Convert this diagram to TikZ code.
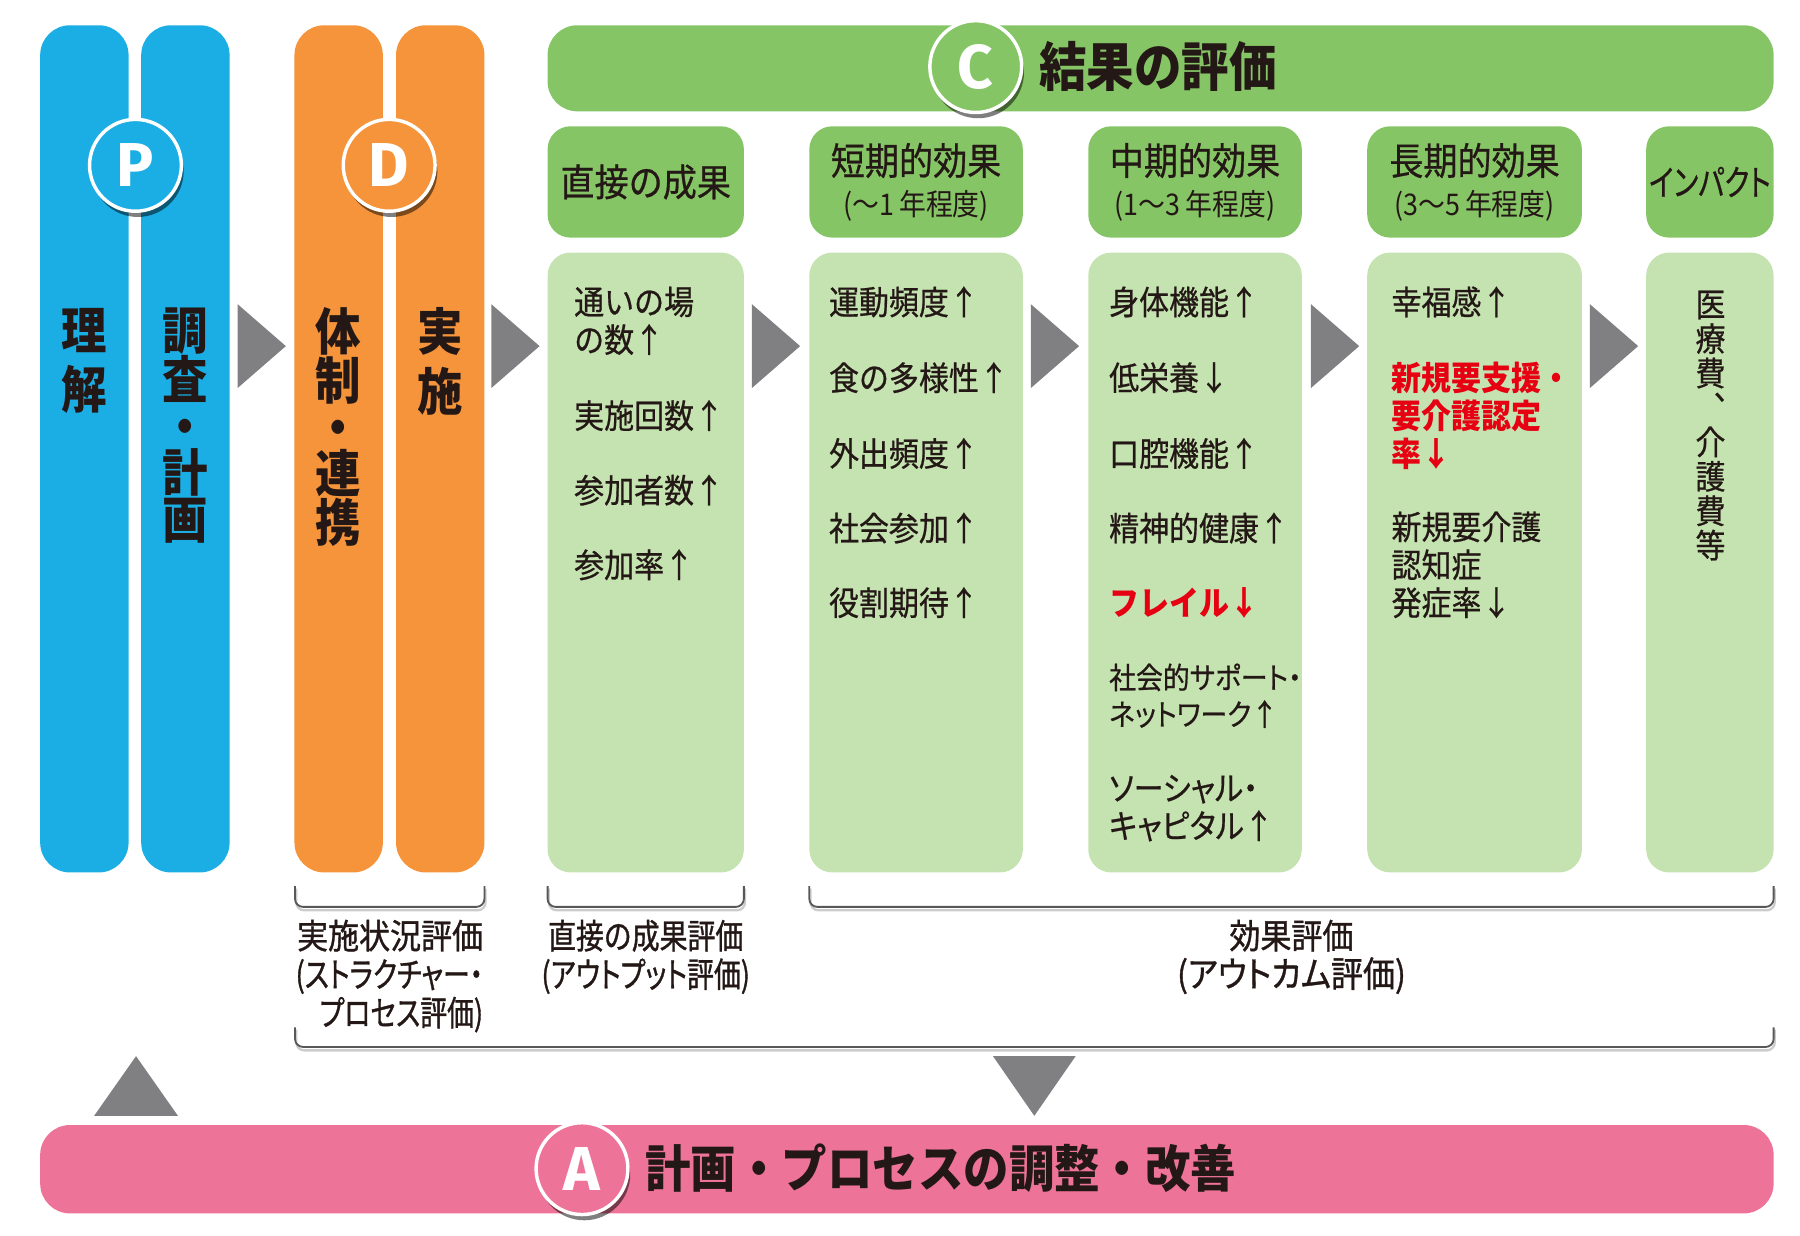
\documentclass[tikz,border=0pt]{standalone}
\usepackage{fontspec}
\setmainfont{Noto Sans CJK JP}
\newfontfamily\jp[FakeStretch=0.9]{Noto Sans CJK JP}
\newfontfamily\jm[FakeStretch=0.9,FakeBold=0.6]{Noto Sans CJK JP}
\newfontfamily\jmp[FakeStretch=0.9,FakeBold=0.6,RawFeature=+palt]{Noto Sans CJK JP}
\newfontfamily\jnp[FakeStretch=0.78,FakeBold=0.6,RawFeature=+palt]{Noto Sans CJK JP}
\newfontfamily\jeA[FakeStretch=0.9,FakeBold=1]{Noto Sans CJK JP}
\newfontfamily\jeB[FakeStretch=0.78,FakeBold=1,RawFeature=+palt]{Noto Sans CJK JP}
\newfontfamily\jeC[FakeStretch=0.81,FakeBold=1]{Noto Sans CJK JP}
\newfontfamily\jeD[FakeStretch=0.9,FakeBold=1,RawFeature=+palt]{Noto Sans CJK JP}
\newfontfamily\lat{Fira Sans}
\usetikzlibrary{shadows,calc}
\definecolor{cblue}{RGB}{27,174,228}
\definecolor{corange}{RGB}{245,148,58}
\definecolor{cgreen}{RGB}{134,197,102}
\definecolor{clight}{RGB}{197,227,177}
\definecolor{cpink}{RGB}{238,115,153}
\definecolor{cgray}{RGB}{128,128,130}
\definecolor{cred}{RGB}{230,0,18}
\definecolor{ctext}{RGB}{35,24,21}
\definecolor{cline}{RGB}{89,87,87}
\newcommand\fs[2]{\fontsize{#1}{#2}\selectfont}
\begin{document}
\begin{tikzpicture}[x=1pt,y=-1pt,
  colbox/.style={rounded corners=26pt, minimum width=77pt, minimum height=738pt, inner sep=0pt},
  hdr/.style={fill=cgreen, rounded corners=20pt, minimum height=97pt, inner sep=0pt, align=center, text=ctext, font=\jm\fs{33}{35}},
  bodybox/.style={fill=clight, rounded corners=20pt, minimum height=540pt, inner sep=0pt},
  badge/.style={circle, draw=white, line width=3pt, minimum size=80pt, inner sep=0pt, text=white, font=\lat\bfseries\fs{54}{54},
    drop shadow={shadow xshift=2pt, shadow yshift=-5pt, opacity=.5, fill=black}},
  vlabel/.style={anchor=north, inner sep=0pt, align=center, text=ctext},
  item/.style={anchor=west, inner sep=0pt, align=left, text=ctext, font=\jm\fs{29}{33}},
  reditem/.style={item, text=cred, font=\jp\bfseries\fs{29}{33}},
  evlabel/.style={inner sep=0pt, text=ctext, font=\jeA\fs{30}{33.5}},
  tri/.style={fill=cgray},
  brk/.style={draw=cline, line width=1.6pt, rounded corners=7pt},
  brkshadow/.style={draw=black!20, line width=2pt, rounded corners=7pt}
]
\useasboundingbox (0,0) rectangle (1568,1076);

% ---- P columns
\node[colbox, fill=cblue] (p1) at (73.5,391) {};
\node[colbox, fill=cblue] (p2) at (161.5,391) {};
\node[badge, fill=cblue] (pb) at (118,144) {P};
\node[vlabel, font=\jp\bfseries\fs{44}{52}] (pl1) at (73.5,268) {理\\解};
\node[vlabel, font=\jp\bfseries\fs{44}{40.5}] (pl2) at (161.5,268) {調\\査\\・\\計\\画};

% ---- D columns
\node[colbox, fill=corange] (d1) at (295,391) {};
\node[colbox, fill=corange] (d2) at (383.5,391) {};
\node[badge, fill=corange] (db) at (339,144) {D};
\node[vlabel, font=\jp\bfseries\fs{44}{40.5}] (dl1) at (295,268) {体\\制\\・\\連\\携};
\node[vlabel, font=\jp\bfseries\fs{44}{52}] (dl2) at (383.5,268) {実\\施};

% ---- C banner
\node[fill=cgreen, rounded corners=26pt, minimum width=1068pt, minimum height=75pt, inner sep=0pt] (cbar) at (1011,59.5) {};
\node[badge, fill=cgreen] (cb) at (850,58) {C};
\node[anchor=west, inner sep=0pt, text=ctext, font=\jp\bfseries\fs{46}{46}] (ct) at (905,58) {結果の評価};

% ---- headers
\node[hdr, minimum width=171pt] (h1) at (562.5,158.5) {直接の成果};
\node[hdr, minimum width=186pt] (h2) at (798,158.5) {短期的効果\\{\jp\fs{26}{30}(〜1\,年程度)}};
\node[hdr, minimum width=186pt] (h3) at (1041,158.5) {中期的効果\\{\jp\fs{26}{30}(1〜3\,年程度)}};
\node[hdr, minimum width=187pt] (h4) at (1284.5,158.5) {長期的効果\\{\jp\fs{26}{30}(3〜5\,年程度)}};
\node[hdr, minimum width=111pt, font=\jnp\fs{31}{35}] (h5) at (1489.5,158.5) {インパクト};

% ---- bodies
\node[bodybox, minimum width=171pt] (b1) at (562.5,490) {};
\node[bodybox, minimum width=186pt] (b2) at (798,490) {};
\node[bodybox, minimum width=186pt] (b3) at (1041,490) {};
\node[bodybox, minimum width=187pt] (b4) at (1284.5,490) {};
\node[bodybox, minimum width=111pt] (b5) at (1489.5,490) {};

% box 1 items
\node[item] (i11) at (500,279.5) {通いの場\\の数↑};
\node[item] (i12) at (500,362) {実施回数↑};
\node[item] (i13) at (500,427) {参加者数↑};
\node[item] (i14) at (500,492) {参加率↑};
% box 2 items
\node[item] (i21) at (722,263) {運動頻度↑};
\node[item] (i22) at (722,329) {食の多様性↑};
\node[item] (i23) at (722,395) {外出頻度↑};
\node[item] (i24) at (722,460) {社会参加↑};
\node[item] (i25) at (722,525) {役割期待↑};
% box 3 items
\node[item] (i31) at (966,263) {身体機能↑};
\node[item] (i32) at (966,329) {低栄養↓};
\node[item] (i33) at (966,395) {口腔機能↑};
\node[item] (i34) at (966,460) {精神的健康↑};
\node[reditem] (i35) at (966,525) {フレイル↓};
\node[item, font=\jmp\fs{26}{32}] (i36) at (966,606) {社会的サポート・\\ネットワーク↑};
\node[item, font=\jmp\fs{29}{33}] (i37) at (966,704) {ソーシャル・\\キャピタル↑};
% box 4 items
\node[item] (i41) at (1212,263) {幸福感↑};
\node[reditem] (i42) at (1212,362) {新規要支援・\\要介護認定\\率↓};
\node[item] (i43) at (1212,492) {新規要介護\\認知症\\発症率↓};
% box 5 vertical
\node[vlabel, font=\jm\fs{29}{30}] (i51) at (1490,253) {医\\療\\費\\︑\\介\\護\\費\\等};

% ---- gray flow triangles
\foreach \L in {207,428,655,898,1142,1385}{
  \fill[tri] (\L,265) -- (\L+42,301.5) -- (\L,338) -- cycle;
}

% ---- brackets
\draw[brkshadow] (258,774) |- (340,793) -| (423,774);
\draw[brk] (257,772) |- (339.5,790) -| (422,772);
\draw[brkshadow] (478,774) |- (563,793) -| (649,774);
\draw[brk] (477,772) |- (562.5,790) -| (648,772);
\draw[brkshadow] (706,774) |- (1125,793) -| (1546,774);
\draw[brk] (705,772) |- (1125,790) -| (1545,772);
\draw[brkshadow] (258,897) |- (900,915) -| (1546,897);
\draw[brk] (257,895) |- (900,912) -| (1545,895);

% ---- evaluation labels
\node[evlabel, anchor=north east, align=right] (e1) at (421,801) {実施状況評価\\{\jeB(ストラクチャー・}\\{\jeB プロセス評価)}};
\node[evlabel, anchor=north, align=center] (e2) at (562.5,801) {{\jeC 直接の成果評価}\\{\jeB(アウトプット評価)}};
\node[evlabel, anchor=north, align=center] (e3) at (1125,801) {効果評価\\{\jeD\fs{31}{33.5}(アウトカム評価)}};

% ---- feedback triangles
\fill[tri] (865,920) -- (937,920) -- (901,972) -- cycle;
\fill[tri] (82,972) -- (155,972) -- (118.5,920) -- cycle;

% ---- A bar
\node[fill=cpink, rounded corners=26pt, minimum width=1510pt, minimum height=77pt, inner sep=0pt] (abar) at (790,1018.5) {};
\node[badge, fill=cpink] (ab) at (507,1018) {A};
\node[anchor=west, inner sep=0pt, text=ctext, font=\jp\bfseries\fs{44}{44}] (at) at (562,1018) {計画・プロセスの調整・改善};
\end{tikzpicture}
\end{document}
